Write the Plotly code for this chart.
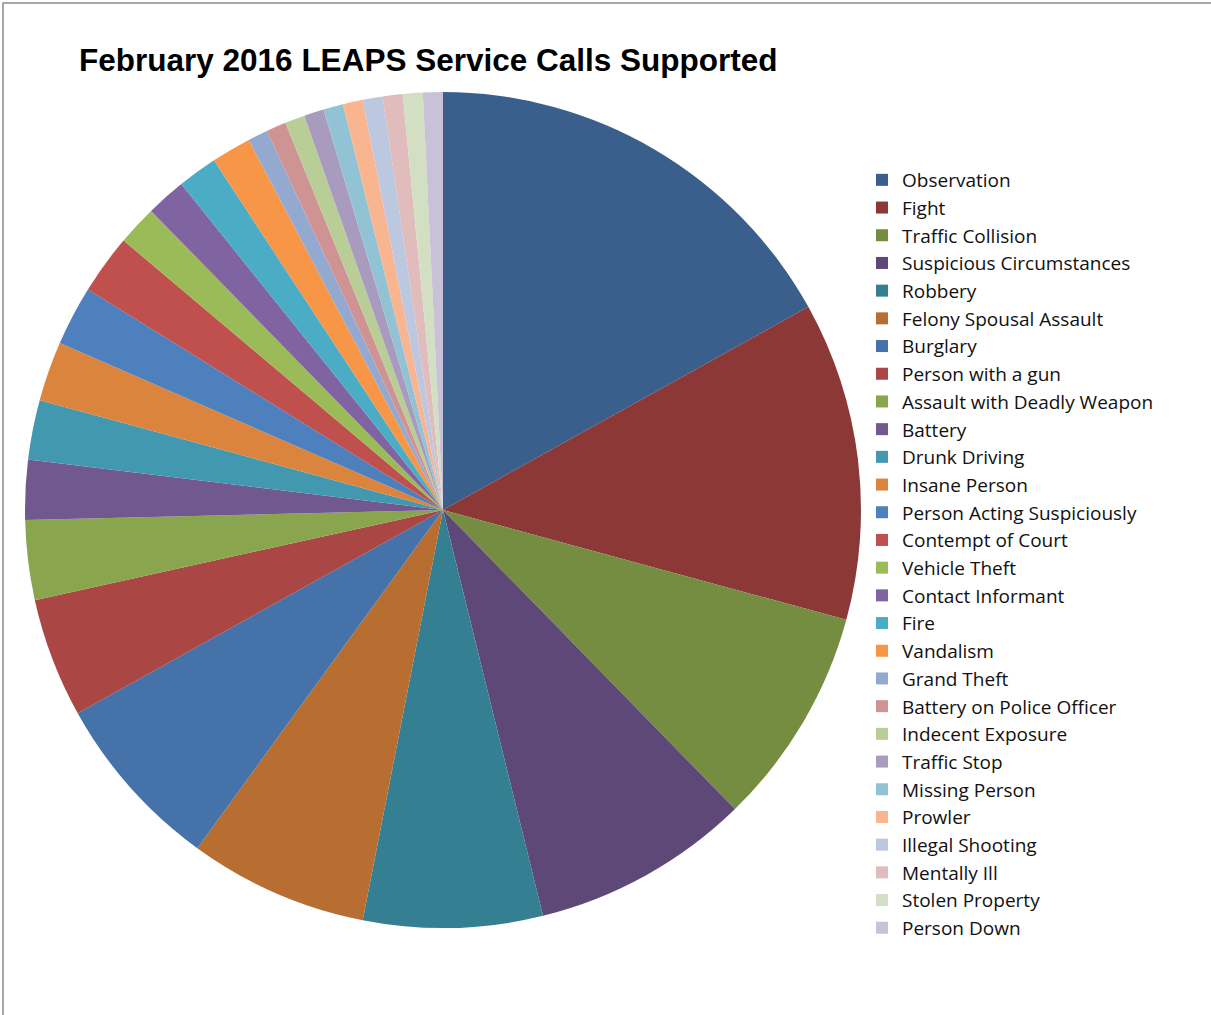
import plotly.graph_objects as go

categories = ["Observation", "Fight", "Traffic Collision", "Suspicious Circumstances",
              "Robbery", "Felony Spousal Assault", "Burglary", "Person with a gun",
              "Assault with Deadly Weapon", "Battery", "Drunk Driving", "Insane Person",
              "Person Acting Suspiciously", "Contempt of Court", "Vehicle Theft",
              "Contact Informant", "Fire", "Vandalism", "Grand Theft",
              "Battery on Police Officer", "Indecent Exposure", "Traffic Stop",
              "Missing Person", "Prowler", "Illegal Shooting", "Mentally Ill",
              "Stolen Property", "Person Down"]
calls = [22, 16, 11, 11, 9, 9, 9, 6, 4, 3, 3, 3, 3, 3, 2, 2, 2, 2,
         1, 1, 1, 1, 1, 1, 1, 1, 1, 1]
colors = ["#3A5F8D", "#8C3836", "#748D40", "#5E4878", "#357F92", "#B86E31",
          "#4572A8", "#AA4643", "#89A54E", "#71588F", "#4198AF", "#DB843D",
          "#4D80BD", "#C0504D", "#9BBB59", "#8064A2", "#4BACC6", "#F79646",
          "#93A9CF", "#D09393", "#B9CD96", "#A99BBD", "#92C3D4", "#F9B590",
          "#BCC7E0", "#E0BCBC", "#D3DFC2", "#C9C1D7"]

W, H = 1211, 1015
cx, cy, r = 443, 510, 418

fig = go.Figure(go.Pie(
    labels=categories,
    values=calls,
    sort=False,
    direction="clockwise",
    rotation=0,
    marker=dict(colors=colors, line=dict(width=0)),
    textinfo="none",
    hoverinfo="label+value+percent",
    domain=dict(x=[(cx - r) / W, (cx + r) / W], y=[(H - cy - r) / H, (H - cy + r) / H]),
))

fig.update_layout(
    width=W, height=H,
    margin=dict(l=0, r=0, t=0, b=0, autoexpand=False),
    paper_bgcolor="white",
    plot_bgcolor="white",
    showlegend=True,
    legend=dict(
        x=862 / W, y=1 - 161 / H, xanchor="left", yanchor="top",
        font=dict(family="Open Sans, Calibri, sans-serif", size=19, color="#111111"),
        bgcolor="rgba(0,0,0,0)",
        traceorder="normal",
        itemclick=False,
    ),
    annotations=[dict(
        text="<b>February 2016 LEAPS Service Calls Supported</b>",
        x=77 / W, y=1 - 60 / H, xref="paper", yref="paper",
        xanchor="left", yanchor="middle", showarrow=False,
        font=dict(family="Liberation Sans, Arial, sans-serif", size=31.5, color="#000000"),
    )],
    shapes=[dict(
        type="rect", xref="paper", yref="paper",
        x0=3 / W, x1=1.05, y0=-0.05, y1=1 - 3 / H,
        line=dict(color="#8C8C8C", width=1.5),
    )],
)

fig.write_html("out.html", config={"displayModeBar": False},
               post_script="document.body.style.margin='0';document.documentElement.style.overflow='hidden';")
